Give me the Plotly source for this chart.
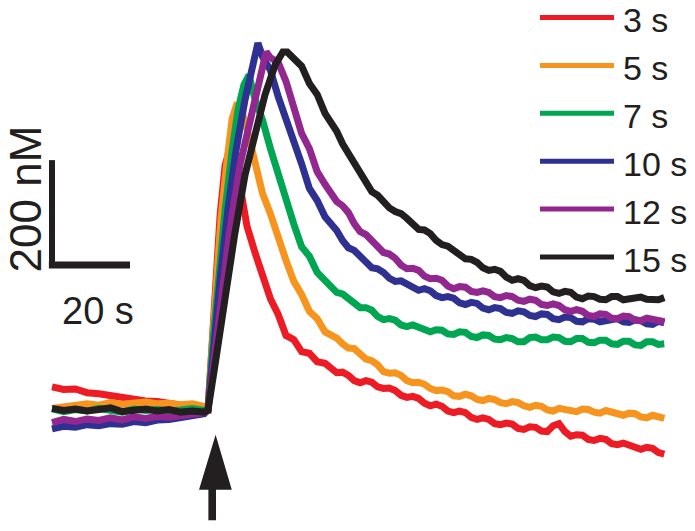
import plotly.graph_objects as go

# ---------------- data (time in s relative to stimulus, [Ca2+] in nM above baseline) ----------------
labels = ["3 s", "5 s", "7 s", "10 s", "12 s", "15 s"]
colors = ["#ED1C24", "#F7941D", "#00A651", "#2E3192", "#92278F", "#231F20"]

base_t = [-40, -37, -34, -31, -28, -25, -22, -19, -16, -13, -10, -7, -4, -1]
late_t = [33, 34.5, 36, 37.5, 39, 40.5, 42, 43.5, 45, 46.5, 48, 49.5, 51, 52.5, 54, 55.5, 57, 58.5,
          60, 61.5, 63, 64.5, 66, 67.5, 69, 70.5, 72, 73.5, 75, 76.5, 78, 79.5, 81, 82.5, 84, 85.5,
          87, 88.5, 90, 91.5, 93, 94.5, 96, 97.5, 99, 100.5, 102, 103.5, 105, 106.5, 108, 109.5,
          111, 112.5, 114, 115.5, 117]

# 3 s
t_3s = base_t + [0, 0.8, 1.8, 3.1, 4.4, 5.9, 7.2, 8, 10, 12, 14, 16, 18, 20, 22, 24, 26, 28, 30] + late_t
c_3s = ([44, 39, 40, 33, 31, 27, 25, 20, 17, 16, 11, 9, 5, 3]
        + [0, 95, 229, 371, 467, 505, 470, 440, 350, 301, 252, 212, 182, 142, 134, 111, 108, 92, 89]
        + [71, 72, 66, 56, 52, 56, 53, 44, 41, 42, 37, 28, 24, 26, 22, 13, 8, 11, 7, -2, -5, -2, -5,
           -14, -18, -15, -18, -26, -28, -25, -27, -35, -37, -32, -33, -40, -41, -30, -26, -41, -50,
           -47, -48, -56, -58, -54, -56, -64, -66, -63, -67, -73, -75, -71, -73, -81, -84])

# 5 s
t_5s = base_t + [0, 1.0, 2.1, 3.3, 4.9, 6.2, 7.5, 9, 10, 12, 14, 16, 18, 20, 22, 24, 26, 28, 30] + late_t
c_5s = ([3, 6, 10, 12, 9, 14, 11, 13, 15, 12, 13, 10, 12, 7]
        + [0, 114, 229, 362, 476, 555, 585, 560, 535, 474, 412, 374, 325, 285, 245, 220, 188, 174, 149]
        + [137, 126, 118, 117, 109, 97, 94, 86, 73, 70, 71, 66, 56, 52, 53, 49, 41, 37, 38, 35, 27, 26,
           30, 27, 20, 18, 22, 20, 14, 12, 16, 14, 8, 5, 9, 7, 0, -2, 3, 2, -2, -3, 2, 1, -4, -6, -1,
           -3, -8, -10, -6, -7, -13, -15, -10, -12, -16])

# 7 s
t_7s = base_t + [0, 1.3, 2.6, 4.4, 6.2, 7.7, 9.2, 10.5, 12, 14, 16, 18, 20, 22, 24, 26, 28, 30] + late_t
c_7s = ([2, -3, 1, -2, 3, 0, -4, 2, -1, 1, -2, 0, 3, -1]
        + [0, 133, 248, 381, 495, 572, 619, 638, 594, 552, 498, 449, 397, 354, 311, 293, 262, 247]
        + [224, 221, 213, 201, 195, 195, 190, 178, 172, 174, 171, 162, 159, 162, 158, 151, 149, 153,
           152, 145, 144, 149, 148, 140, 138, 143, 142, 135, 134, 138, 136, 130, 130, 138, 139, 134,
           134, 139, 138, 131, 130, 136, 136, 129, 128, 133, 133, 126, 125, 131, 131, 124, 123, 130,
           130, 125, 126])

# 10 s
t_10s = base_t + [0, 1.5, 3.1, 5.1, 7.2, 9.5, 11.3, 12.8, 14, 16, 18, 20, 22, 24, 26, 28, 30] + late_t
c_10s = ([-36, -31, -33, -28, -30, -26, -27, -22, -24, -19, -18, -14, -11, -7]
         + [0, 133, 248, 381, 495, 591, 657, 699, 673, 647, 597, 556, 506, 469, 422, 399, 368]
         + [342, 323, 309, 304, 294, 280, 271, 269, 262, 251, 245, 246, 240, 232, 228, 231, 227, 218,
            214, 216, 213, 204, 201, 205, 203, 194, 191, 195, 193, 186, 184, 189, 187, 180, 178, 183,
            182, 174, 172, 177, 176, 169, 168, 174, 173, 168, 169, 173, 174, 168, 167, 172, 170, 164,
            163, 169, 166])

# 12 s
t_12s = base_t + [0, 1.8, 3.6, 5.6, 8.2, 11.3, 13.3, 14.9, 16, 18, 20, 22, 24, 26, 28, 30] + late_t
c_12s = ([-24, -18, -22, -17, -20, -15, -19, -13, -16, -12, -14, -10, -9, -5]
         + [0, 114, 229, 343, 467, 566, 638, 682, 671, 662, 626, 578, 527, 498, 454, 430]
         + [397, 389, 376, 355, 340, 334, 323, 309, 300, 297, 289, 276, 269, 270, 266, 255, 250, 251,
            247, 236, 231, 235, 234, 226, 224, 227, 224, 216, 214, 218, 216, 209, 207, 211, 209, 201,
            199, 202, 199, 191, 188, 191, 188, 180, 178, 183, 182, 175, 174, 179, 178, 171, 170, 175,
            173, 168, 168])

# 15 s
t_15s = base_t + [0, 1.8, 3.6, 5.4, 6.9, 9.5, 12.1, 14.6, 17.2, 19.2, 20.3, 22, 24, 26, 28, 30] + late_t
c_15s = ([3, -1, 2, -2, 1, 4, -3, 0, 2, -2, 1, -4, -2, -4]
         + [0, 86, 177, 267, 337, 448, 524, 600, 657, 682, 682, 671, 655, 622, 601, 565]
         + [531, 507, 488, 475, 456, 433, 416, 409, 397, 385, 378, 374, 365, 352, 344, 343, 336, 323,
            315, 312, 304, 293, 288, 287, 281, 271, 266, 268, 264, 253, 247, 250, 247, 237, 233, 236,
            234, 225, 222, 226, 224, 215, 212, 217, 216, 211, 210, 216, 216, 210, 211, 215, 215, 211,
            210, 210, 214])

scale_conc = 200   # nM
scale_time = 20    # s

series_t = [t_3s, t_5s, t_7s, t_10s, t_12s, t_15s]
series_c = [c_3s, c_5s, c_7s, c_10s, c_12s, c_15s]

# ---------------- figure ----------------
W, H = 695, 531
FONT = "Arial, Liberation Sans, sans-serif"

fig = go.Figure()
for t, c, lab, col in zip(series_t, series_c, labels, colors):
    fig.add_trace(go.Scatter(x=t, y=c, mode="lines", name=lab,
                             line=dict(color=col, width=7), showlegend=False,
                             hoverinfo="skip"))

shapes = []
annotations = []

# scale bar (data units)
sb_t0, sb_c0 = -40, 276
shapes.append(dict(type="line", xref="x", yref="y", x0=sb_t0, x1=sb_t0,
                   y0=sb_c0 - 4, y1=sb_c0 + scale_conc, line=dict(color="#231F20", width=6)))
shapes.append(dict(type="line", xref="x", yref="y", x0=sb_t0 - 0.8, x1=sb_t0 + scale_time,
                   y0=sb_c0, y1=sb_c0, line=dict(color="#231F20", width=7)))
annotations.append(dict(xref="x", yref="y", x=-46.8, y=sb_c0 + scale_conc / 2 + 26,
                        text=f"{scale_conc} nM", textangle=-90, showarrow=False,
                        font=dict(family=FONT, size=44, color="#231F20")))
annotations.append(dict(xref="x", yref="y", x=-28.2, y=188,
                        text=f"{scale_time} s", showarrow=False,
                        font=dict(family=FONT, size=38, color="#231F20")))

# stimulus arrow (data units)
shapes.append(dict(type="path", xref="x", yref="y",
                   path="M 1.95,-47 L 6.1,-152 L 2.05,-152 L 2.05,-210 L 0.1,-210 L 0.1,-152 L -2.3,-152 Z",
                   fillcolor="#231F20", line=dict(width=0)))

# legend (drawn manually to match long swatches)
leg_y0, leg_dy = 17.5, 47.9
for i, (lab, col) in enumerate(zip(labels, colors)):
    py = leg_y0 + i * leg_dy
    shapes.append(dict(type="line", xref="paper", yref="paper",
                       x0=540 / W, x1=614 / W, y0=1 - py / H, y1=1 - py / H,
                       line=dict(color=col, width=5)))
    annotations.append(dict(xref="paper", yref="paper", x=621 / W, y=1 - (py + 3) / H,
                            xanchor="left", yanchor="middle", text=lab, showarrow=False,
                            font=dict(family=FONT, size=34, color="#231F20")))

x_per_s = 3.9
px_per_nM = 0.525
fig.update_layout(
    width=W, height=H, autosize=False,
    margin=dict(l=0, r=0, t=0, b=0, pad=0),
    paper_bgcolor="white", plot_bgcolor="white",
    xaxis=dict(range=[-208 / x_per_s, (W - 208) / x_per_s], visible=False, fixedrange=True),
    yaxis=dict(range=[(410 - H) / px_per_nM, 410 / px_per_nM], visible=False, fixedrange=True),
    shapes=shapes, annotations=annotations,
)

fig.write_html("out.html", config={"displayModeBar": False},
               post_script="document.body.style.margin='0';document.body.style.overflow='hidden';")
